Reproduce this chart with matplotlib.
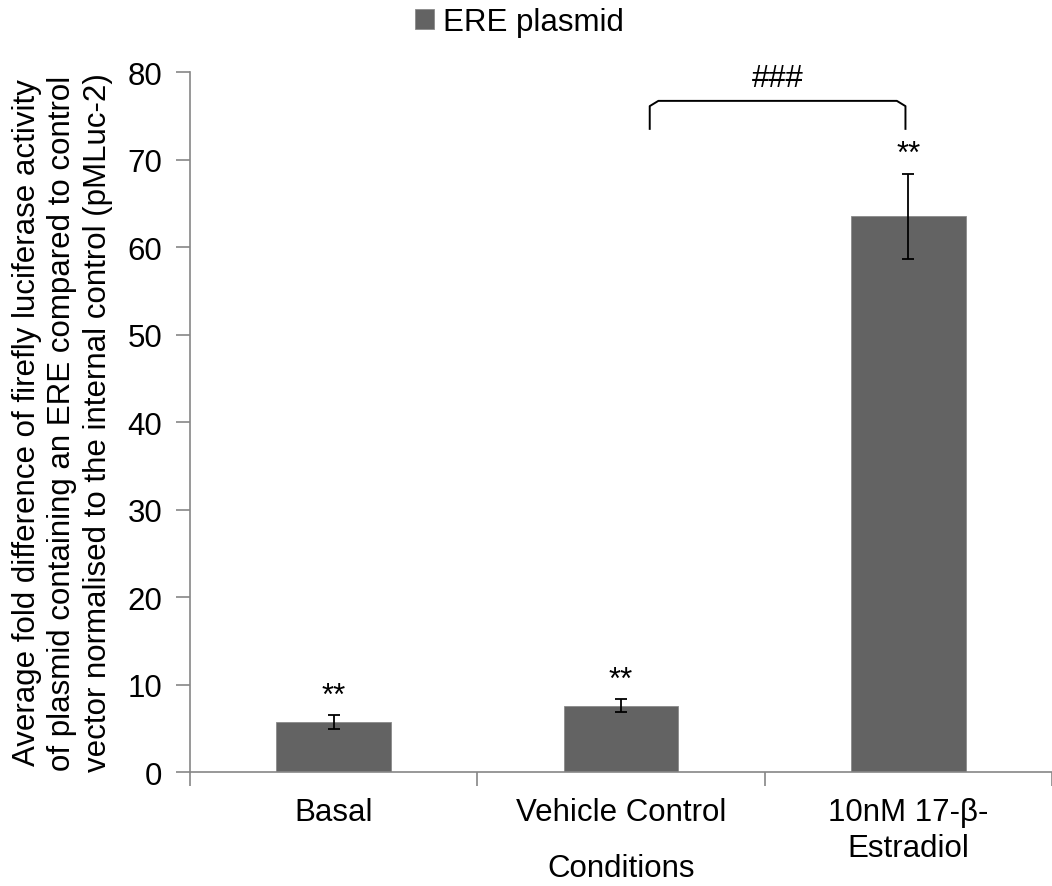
import numpy as np
import matplotlib.pyplot as plt

plt.rcParams['font.family'] = ['Liberation Sans', 'DejaVu Sans']

# data
conditions = ["Basal", "Vehicle Control", "10nM 17-\u03b2-\nEstradiol"]
fold_change = [5.7, 7.6, 63.5]
fold_err = [0.8, 0.7, 4.9]
stars = ["**", "**", "**"]
yticks = [0, 10, 20, 30, 40, 50, 60, 70, 80]

bar_col = "#636363"
axis_col = "#868686"
fs = 22.5

fig = plt.figure(figsize=(10.52, 8.87), dpi=100)
ax = fig.add_axes([0.1806, 0.1285, 0.8194, 0.7892])

x = np.arange(len(conditions))
ax.bar(x, fold_change, width=0.4, color=bar_col, edgecolor="#8a8a8a",
       linewidth=0.6, label="ERE plasmid", zorder=2)
ax.errorbar(x, fold_change, yerr=fold_err, fmt="none", ecolor="black",
            elinewidth=1.3, capsize=4.5, capthick=1.3, zorder=3)

for xi, m, e, s in zip(x, fold_change, fold_err, stars):
    ax.annotate(s, (xi, m + e), xytext=(0, 8), textcoords="offset points",
                ha="center", va="baseline", fontsize=fs)

# bracket between vehicle and estradiol
bx0, bx1, by_top, by_bot = 1.1, 1.99, 76.7, 73.5
r = 0.03
bracket_x = [bx0, bx0, bx0 + r, bx1 - r, bx1, bx1]
bracket_y = [by_bot, by_top - 0.6, by_top, by_top, by_top - 0.6, by_bot]
ax.plot(bracket_x, bracket_y, color="black", lw=1.4, solid_joinstyle="round",
        clip_on=False)
ax.text((bx0 + bx1) / 2, by_top + 0.9, "###", ha="center", va="bottom",
        fontsize=fs)

ax.set_xlim(-0.5, len(conditions) - 0.5)
ax.set_ylim(0, 80)
ax.set_yticks(yticks)
ax.set_xticks(x)
ax.set_xticklabels(conditions, fontsize=fs, linespacing=1.25)
ax.set_xticks(np.arange(len(conditions) + 1) - 0.5, minor=True)
ax.tick_params(axis="x", which="major", length=0, pad=18)
ax.tick_params(axis="x", which="minor", length=10, color=axis_col, width=1.2)
ax.tick_params(axis="y", labelsize=fs, length=10, color=axis_col, width=1.2,
               pad=10)

for side in ["top", "right"]:
    ax.spines[side].set_visible(False)
for side in ["left", "bottom"]:
    ax.spines[side].set_color(axis_col)
    ax.spines[side].set_linewidth(1.2)

ax.set_xlabel("Conditions", fontsize=fs)
ax.xaxis.set_label_coords(0.5, -0.116)
ax.set_ylabel("Average fold difference of firefly luciferase activity\n"
              "of plasmid containing an ERE compared to control\n"
              "vector normalised to the internal control (pMLuc-2)",
              fontsize=fs, linespacing=1.25)
ax.yaxis.set_label_coords(-0.0893, 0.5)

fig.legend(loc="center", bbox_to_anchor=(0.494, 0.974), frameon=False,
           fontsize=fs, handlelength=0.6, handleheight=0.6, handletextpad=0.3)

fig.savefig("out.png", dpi=100)
